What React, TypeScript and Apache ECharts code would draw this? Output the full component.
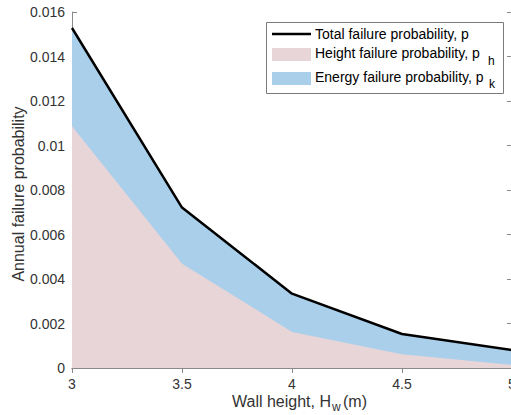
import React, { useEffect, useRef } from "react";
import * as echarts from "echarts";

const wallHeights = [3, 3.5, 4, 4.5, 5];
const totalProb = [0.01528, 0.00721, 0.00334, 0.00153, 0.00081];
const heightProb = [0.01086, 0.00469, 0.00162, 0.00062, 0.00014];
const yTicks = { min: 0, max: 0.016, interval: 0.002 };
const xTicks = { min: 3, max: 5, interval: 0.5 };

const FONT = "'Liberation Sans', Arial, Helvetica, sans-serif";
const AXIS_COLOR = "#8a8a8a";
const TEXT_COLOR = "#333333";
const PINK = "#e8d5d8";
const BLUE = "#a9cfeb";

export default function App() {
  const ref = useRef<HTMLDivElement>(null);
  useEffect(() => {
    if (!ref.current) return;
    const chart = echarts.init(ref.current, null, { renderer: "svg" });
    const totalData = wallHeights.map((x, i) => [x, totalProb[i]]);
    const heightData = wallHeights.map((x, i) => [x, heightProb[i]]);
    const axisCommon = {
      axisLine: { show: true, lineStyle: { color: AXIS_COLOR, width: 1 } },
      axisTick: { show: true, inside: true, length: 5, lineStyle: { color: AXIS_COLOR } },
      splitLine: { show: false },
    };
    const txt = (x: number, y: number, text: string, size: number, color: string, align = "left", z = 11) => ({
      type: "text",
      x,
      y,
      z,
      style: { text, fontSize: size, fontFamily: FONT, fill: color, align, verticalAlign: "middle" },
    });
    chart.setOption({
      animation: false,
      grid: { left: 72, top: 12, right: 0, bottom: 47, containLabel: false, outerBoundsMode: "none" },
      xAxis: [
        {
          type: "value",
          ...xTicks,
          ...axisCommon,
          axisLabel: { color: TEXT_COLOR, fontSize: 14, fontFamily: FONT, margin: 9, hideOverlap: false },
        },
        {
          type: "value",
          position: "top",
          ...xTicks,
          ...axisCommon,
          axisLabel: { show: false },
        },
      ],
      yAxis: [
        {
          type: "value",
          ...yTicks,
          ...axisCommon,
          axisLabel: { color: TEXT_COLOR, fontSize: 14, fontFamily: FONT, margin: 7 },
        },
        {
          type: "value",
          position: "right",
          ...yTicks,
          ...axisCommon,
          axisLabel: { show: false },
        },
      ],
      series: [
        {
          name: "Energy failure probability",
          type: "line",
          data: totalData,
          symbol: "none",
          lineStyle: { width: 0 },
          areaStyle: { color: BLUE, opacity: 1 },
          z: 1,
        },
        {
          name: "Height failure probability",
          type: "line",
          data: heightData,
          symbol: "none",
          lineStyle: { width: 0 },
          areaStyle: { color: PINK, opacity: 1 },
          z: 2,
        },
        {
          name: "Total failure probability",
          type: "line",
          data: totalData,
          symbol: "none",
          lineStyle: { color: "#000000", width: 2.5 },
          z: 3,
        },
      ],
      graphic: [
        {
          type: "rect",
          shape: { x: 266.5, y: 22.5, width: 237, height: 71 },
          style: { fill: "#ffffff", stroke: "#7a7a7a", lineWidth: 1 },
          z: 10,
        },
        {
          type: "line",
          shape: { x1: 272, y1: 34, x2: 311, y2: 34 },
          style: { stroke: "#000000", lineWidth: 2.5 },
          z: 11,
        },
        {
          type: "rect",
          shape: { x: 272, y: 48, width: 39, height: 13 },
          style: { fill: PINK },
          z: 11,
        },
        {
          type: "rect",
          shape: { x: 272, y: 72, width: 39, height: 13 },
          style: { fill: BLUE },
          z: 11,
        },
        txt(315, 34, "Total failure probability, p", 14, "#000000"),
        txt(315, 53, "Height failure probability, p", 14, "#000000"),
        txt(488, 61, "h", 12, "#000000"),
        txt(315, 77, "Energy failure probability, p", 14, "#000000"),
        txt(489, 84, "k", 12, "#000000"),
        txt(331, 401, "Wall height, H", 16, TEXT_COLOR, "right", 5),
        txt(332, 407, "w", 12, TEXT_COLOR, "left", 5),
        txt(343, 401, "(m)", 16, TEXT_COLOR, "left", 5),
        {
          type: "text",
          x: 18,
          y: 194,
          rotation: Math.PI / 2,
          style: { text: "Annual failure probability", fontSize: 16, fontFamily: FONT, fill: TEXT_COLOR, align: "center", verticalAlign: "middle" },
        },
      ],
    });
    return () => chart.dispose();
  }, []);
  return (
    <div
      ref={ref}
      style={{ position: "fixed", left: 0, top: 0, width: 512, height: 415, background: "#fff" }}
    />
  );
}
